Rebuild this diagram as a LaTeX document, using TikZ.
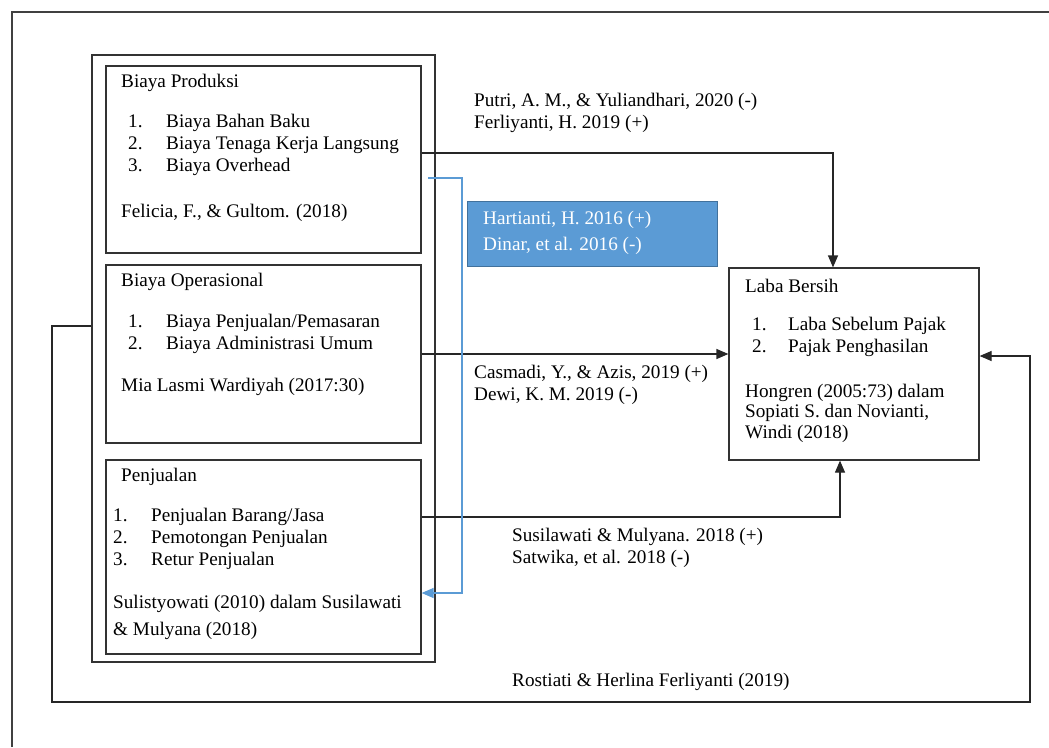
\documentclass[tikz,border=0pt]{standalone}
\usepackage{fontspec}
\setmainfont{Liberation Serif}
\usepackage{xcolor}
\usepackage{tikz}
\usetikzlibrary{arrows.meta, positioning}
\definecolor{biru}{HTML}{5B9BD5}
\definecolor{birutua}{HTML}{41719C}
\newcommand{\nomor}[2][38pt]{\makebox[#1][l]{#2}}

\begin{document}
\begin{tikzpicture}[x=1pt, y=-1pt,
			>={Triangle[length=12pt,width=10pt]},
			kotak/.style={draw=black!80, line width=1.2pt, inner sep=0pt},
			teks/.style={anchor=west, inner sep=0pt, align=left, font=\fontsize{19.2}{22}\selectfont},
			garis/.style={->, draw=black!85, line width=1.2pt},
			garisbiru/.style={->, draw=biru, line width=1.2pt}]
			\useasboundingbox (0,0) rectangle (1049,747);
			\draw[draw=black!75, line width=1.2pt] (12,747) -- (12,12) -- (1049,12);
			\node[kotak, minimum width=343, minimum height=607] (grup) at (263.5,358.5) {};
			\node[kotak, minimum width=315, minimum height=187] (produksi) at (263.5,159.5) {};
			\node[kotak, minimum width=315, minimum height=178] (operasional) at (263.5,354) {};
			\node[kotak, minimum width=315, minimum height=194] (penjualan) at (263.5,557) {};
			\node[kotak, minimum width=250, minimum height=192] (laba) at (854,364) {};
			\node[draw=birutua, fill=biru, line width=0.6pt, minimum width=250, minimum height=65] (hartianti) at (592,233.5) {};
			\node[teks] (produksi-judul) at (121,83) {Biaya Produksi};
			\node[teks] (produksi-isi) at (128,145) {\nomor{1.}Biaya Bahan Baku\\ \nomor{2.}Biaya Tenaga Kerja Langsung\\ \nomor{3.}Biaya Overhead};
			\node[teks] (produksi-sumber) at (121,213) {Felicia, F., \& Gultom. (2018)};
			\node[teks] (operasional-judul) at (121,282) {Biaya Operasional};
			\node[teks] (operasional-isi) at (128,334) {\nomor{1.}Biaya Penjualan/Pemasaran\\ \nomor{2.}Biaya Administrasi Umum};
			\node[teks] (operasional-sumber) at (121,387) {Mia Lasmi Wardiyah (2017:30)};
			\node[teks] (penjualan-judul) at (121,477) {Penjualan};
			\node[teks] (penjualan-isi) at (113,539) {\nomor{1.}Penjualan Barang/Jasa\\ \nomor{2.}Pemotongan Penjualan\\ \nomor{3.}Retur Penjualan};
			\node[teks] (penjualan-sumber) at (113,617) {Sulistyowati (2010) dalam Susilawati\\[5pt] \& Mulyana (2018)};
			\node[teks] (laba-judul) at (745,286) {Laba Bersih};
			\node[teks] (laba-isi) at (752,337) {\nomor[36pt]{1.}Laba Sebelum Pajak\\ \nomor[36pt]{2.}Pajak Penghasilan};
			\node[teks] (laba-sumber) at (745,413) {Hongren (2005:73) dalam\\[-1.5pt] Sopiati S. dan Novianti,\\[-1.5pt] Windi (2018)};
			\node[teks, text=white] (hartianti-teks) at (483,233) {Hartianti, H. 2016 (+)\\[4pt] Dinar, et al. 2016 (-)};
			\node[teks] (putri) at (474,113) {Putri, A. M., \& Yuliandhari, 2020 (-)\\ Ferliyanti, H. 2019 (+)};
			\node[teks] (casmadi) at (474,385) {Casmadi, Y., \& Azis, 2019 (+)\\ Dewi, K. M. 2019 (-)};
			\node[teks] (susilawati) at (512,548) {Susilawati \& Mulyana. 2018 (+)\\ Satwika, et al. 2018 (-)};
			\node[teks] (rostiati) at (512,682) {Rostiati \& Herlina Ferliyanti (2019)};
			\coordinate (kiri) at (52,702);
			\coordinate (kanan) at (1030,702);
			\coordinate (biru-awal) at (428,178);
			\coordinate (biru-tikung) at (462,178);
			\draw[garis] ([yshift=6.5pt]produksi.east) -| ([xshift=-21pt]laba.north);
			\draw[garis] (operasional.east) -- (operasional.east -| laba.west);
			\draw[garis] ([yshift=40pt]penjualan.east) -| ([xshift=-14pt]laba.south);
			\draw[garis] ([yshift=32.5pt]grup.west) -| (kiri) -- (kanan) |- ([yshift=8pt]laba.east);
			\draw[garisbiru] (biru-awal) -- (biru-tikung) |- ([yshift=-36pt]penjualan.east);
		\end{tikzpicture}
\end{document}
